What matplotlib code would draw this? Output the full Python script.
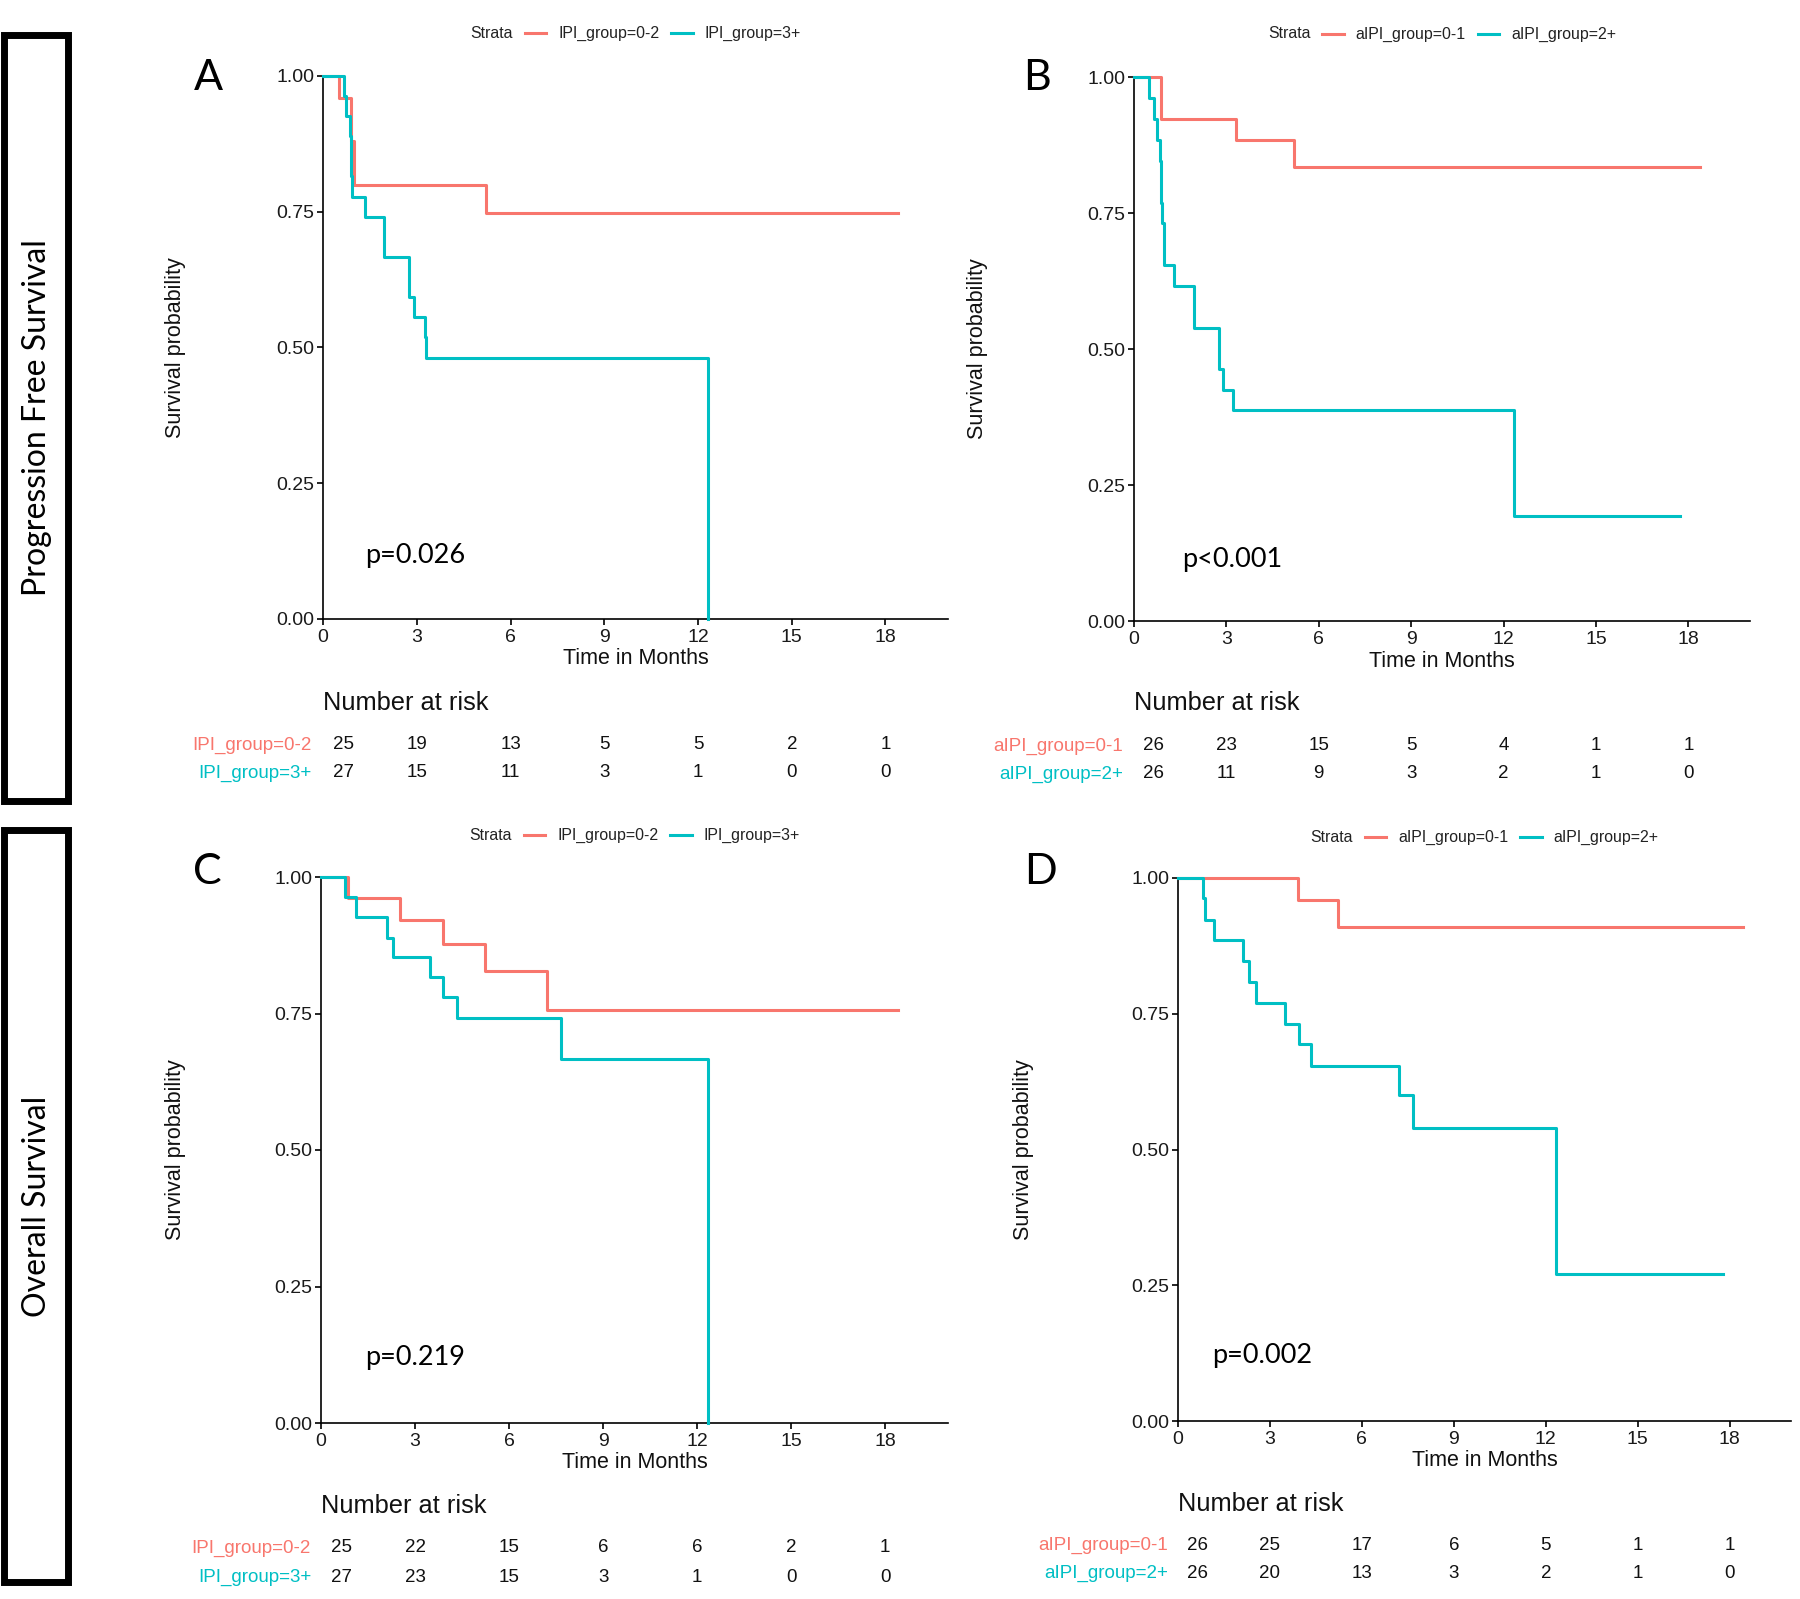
import matplotlib
matplotlib.use("Agg")
import matplotlib.pyplot as plt
import matplotlib.transforms as mtransforms
from matplotlib.lines import Line2D
from matplotlib.patches import Rectangle
from matplotlib.offsetbox import TextArea, DrawingArea, HPacker, AnchoredOffsetbox

RED = '#F8766D'
CYAN = '#00BFC4'
GG = ['Liberation Sans', 'DejaVu Sans']   # ggplot / survminer text
PPT = ['Lato', 'DejaVu Sans']             # text added on top of the panels

# ---- data ----
month_ticks = [0, 3, 6, 9, 12, 15, 18]
surv_ticks = [0.0, 0.25, 0.5, 0.75, 1.0]

# A: PFS, IPI
a_red_t = [0, 0.50, 0.90, 0.98, 5.23]
a_red_s = [1, 0.960, 0.880, 0.800, 0.748]
a_red_end = 18.40
a_cyan_t = [0, 0.67, 0.74, 0.85, 0.90, 0.94, 1.35, 1.95, 2.76, 2.92, 3.25, 3.30, 12.33]
a_cyan_s = [1, 0.963, 0.926, 0.889, 0.815, 0.778, 0.741, 0.667, 0.593, 0.556, 0.519, 0.481, 0.0]
a_cyan_end = 12.33
a_risk_red = [25, 19, 13, 5, 5, 2, 1]
a_risk_cyan = [27, 15, 11, 3, 1, 0, 0]

# B: PFS, aIPI
b_red_t = [0, 0.89, 3.31, 5.19]
b_red_s = [1, 0.923, 0.884, 0.834]
b_red_end = 18.37
b_cyan_t = [0, 0.48, 0.64, 0.75, 0.83, 0.89, 0.92, 0.97, 1.31, 1.95, 2.75, 2.88, 3.21, 12.34]
b_cyan_s = [1, 0.962, 0.922, 0.885, 0.845, 0.769, 0.731, 0.655, 0.616, 0.539, 0.463, 0.425, 0.387, 0.193]
b_cyan_end = 17.73
b_risk_red = [26, 23, 15, 5, 4, 1, 1]
b_risk_cyan = [26, 11, 9, 3, 2, 1, 0]

# C: OS, IPI
c_red_t = [0, 0.85, 2.53, 3.90, 5.22, 7.21]
c_red_s = [1, 0.961, 0.922, 0.877, 0.827, 0.757]
c_red_end = 18.41
c_cyan_t = [0, 0.75, 1.12, 2.09, 2.29, 3.47, 3.90, 4.33, 7.64, 12.36]
c_cyan_s = [1, 0.964, 0.927, 0.889, 0.853, 0.816, 0.780, 0.742, 0.666, 0.0]
c_cyan_end = 12.36
c_risk_red = [25, 22, 15, 6, 6, 2, 1]
c_risk_cyan = [27, 23, 15, 3, 1, 0, 0]

# D: OS, aIPI
d_red_t = [0, 3.93, 5.23]
d_red_s = [1, 0.960, 0.910]
d_red_end = 18.42
d_cyan_t = [0, 0.80, 0.87, 1.16, 2.13, 2.33, 2.56, 3.49, 3.94, 4.35, 7.22, 7.66, 12.34]
d_cyan_s = [1, 0.963, 0.922, 0.885, 0.847, 0.808, 0.770, 0.732, 0.694, 0.654, 0.600, 0.540, 0.270]
d_cyan_end = 17.78
d_risk_red = [26, 25, 17, 6, 5, 1, 1]
d_risk_cyan = [26, 20, 13, 3, 2, 1, 0]

ipi_labels = ['IPI_group=0-2', 'IPI_group=3+']
aipi_labels = ['aIPI_group=0-1', 'aIPI_group=2+']

W, H = 1800, 1599
fig = plt.figure(figsize=(W / 100, H / 100), dpi=100)


def fx(px):
    return px / W


def fy(py):
    return 1 - py / H


def legend_row(cx, cy, labels):
    items = [TextArea('Strata', textprops=dict(size=11.4, color='#222222', family=GG))]
    for lab, col in zip(labels, [RED, CYAN]):
        da = DrawingArea(15.5, 8, 0, 0)
        da.add_artist(Line2D([0, 15.5], [4, 4], color=col, lw=2.2))
        items.append(da)
        items.append(TextArea(lab, textprops=dict(size=11.4, color='#222222', family=GG)))
    box = HPacker(children=items, align='center', pad=0, sep=8.5)
    anc = AnchoredOffsetbox(loc='center', child=box, pad=0, borderpad=0, frameon=False,
                            bbox_to_anchor=(fx(cx), fy(cy)), bbox_transform=fig.transFigure)
    fig.add_artist(anc)


def panel(rect, red, cyan, risk, labels, letter, letter_xy, pval, p_xy,
          ylab_x, leg_y, tab_y, lab_right):
    x0, x1, ytop, ybot = rect
    ax = fig.add_axes([fx(x0), fy(ybot), (x1 - x0) / W, (ybot - ytop) / H])
    for (t, s, end), col in zip([red, cyan], [RED, CYAN]):
        ax.step(list(t) + [end], list(s) + [s[-1]], where='post', color=col, lw=2.2,
                clip_on=False, zorder=3)
    ax.set_xlim(0, 20)
    ax.set_ylim(0, 1)
    ax.set_xticks(month_ticks)
    ax.set_yticks(surv_ticks)
    ax.set_yticklabels(['%.2f' % v for v in surv_ticks])
    for sp in ['top', 'right']:
        ax.spines[sp].set_visible(False)
    for sp in ['left', 'bottom']:
        ax.spines[sp].set_linewidth(1.2)
        ax.spines[sp].set_color('black')
    ax.tick_params(length=4, width=1.2, labelsize=14, labelcolor='#1a1a1a', pad=2)
    ax.tick_params(axis='x', pad=3)
    for lab in ax.get_xticklabels() + ax.get_yticklabels():
        lab.set_family(GG)
    ax.set_xlabel('Time in Months', fontsize=15.5, family=GG, labelpad=2, color='#111111')
    yc = (ytop + ybot) / 2
    fig.text(fx(ylab_x), fy(yc), 'Survival probability', rotation=90, ha='center', va='center',
             fontsize=15.5, family=GG, color='#111111')

    # legend on top
    legend_row((x0 + x1) / 2, leg_y, labels)

    # panel letter and p value
    fig.text(fx(letter_xy[0]), fy(letter_xy[1]), letter, ha='center', va='center',
             fontsize=31, family=PPT)
    fig.text(fx(p_xy[0]), fy(p_xy[1]), pval, ha='left', va='center', fontsize=19.5, family=PPT)

    # number at risk table
    blend = mtransforms.blended_transform_factory(ax.transData, fig.transFigure)
    fig.text(fx(x0), fy(tab_y[0]), 'Number at risk', ha='left', va='center', fontsize=18.3,
             family=GG, color='#111111')
    for row, col, lab, yy in zip(risk, [RED, CYAN], labels, tab_y[1:]):
        fig.text(fx(lab_right), fy(yy), lab, ha='right', va='center', fontsize=13.5,
                 family=GG, color=col)
        for i, (m, n) in enumerate(zip(month_ticks, row)):
            tr = blend
            if i == 0:
                tr = mtransforms.offset_copy(blend, fig=fig, x=20, units='dots')
            ax.text(m, fy(yy), str(n), transform=tr, ha='center', va='center',
                    fontsize=13.5, family=GG, color='#111111')
    return ax


panel((323, 948, 76, 619), (a_red_t, a_red_s, a_red_end), (a_cyan_t, a_cyan_s, a_cyan_end),
      (a_risk_red, a_risk_cyan), ipi_labels, 'A', (208, 78), 'p=0.026', (365, 555),
      176, 33, (703, 745, 773), 312)
panel((1134, 1750, 77, 621), (b_red_t, b_red_s, b_red_end), (b_cyan_t, b_cyan_s, b_cyan_end),
      (b_risk_red, b_risk_cyan), aipi_labels, 'B', (1037, 78), 'p<0.001', (1182, 559),
      977, 34, (703, 746, 774), 1123)
panel((321, 948, 877, 1423), (c_red_t, c_red_s, c_red_end), (c_cyan_t, c_cyan_s, c_cyan_end),
      (c_risk_red, c_risk_cyan), ipi_labels, 'C', (207, 872), 'p=0.219', (365, 1358),
      175, 835, (1506, 1548, 1577), 311)
panel((1178, 1791, 878, 1421), (d_red_t, d_red_s, d_red_end), (d_cyan_t, d_cyan_s, d_cyan_end),
      (d_risk_red, d_risk_cyan), aipi_labels, 'D', (1040, 872), 'p=0.002', (1212, 1356),
      1023, 837, (1504, 1545, 1573), 1168)

# row boxes on the left
for top, bot, txt in [(35, 801, 'Progression Free Survival'), (830, 1582, 'Overall Survival')]:
    fig.add_artist(Rectangle((fx(4), fy(bot)), fx(68) - fx(4), fy(top) - fy(bot),
                             transform=fig.transFigure, fill=False, lw=5, ec='black'))
    fig.text(fx(37), fy((top + bot) / 2), txt, rotation=90, ha='center', va='center',
             fontsize=23, family=PPT)

fig.savefig('out.png', dpi=100)
